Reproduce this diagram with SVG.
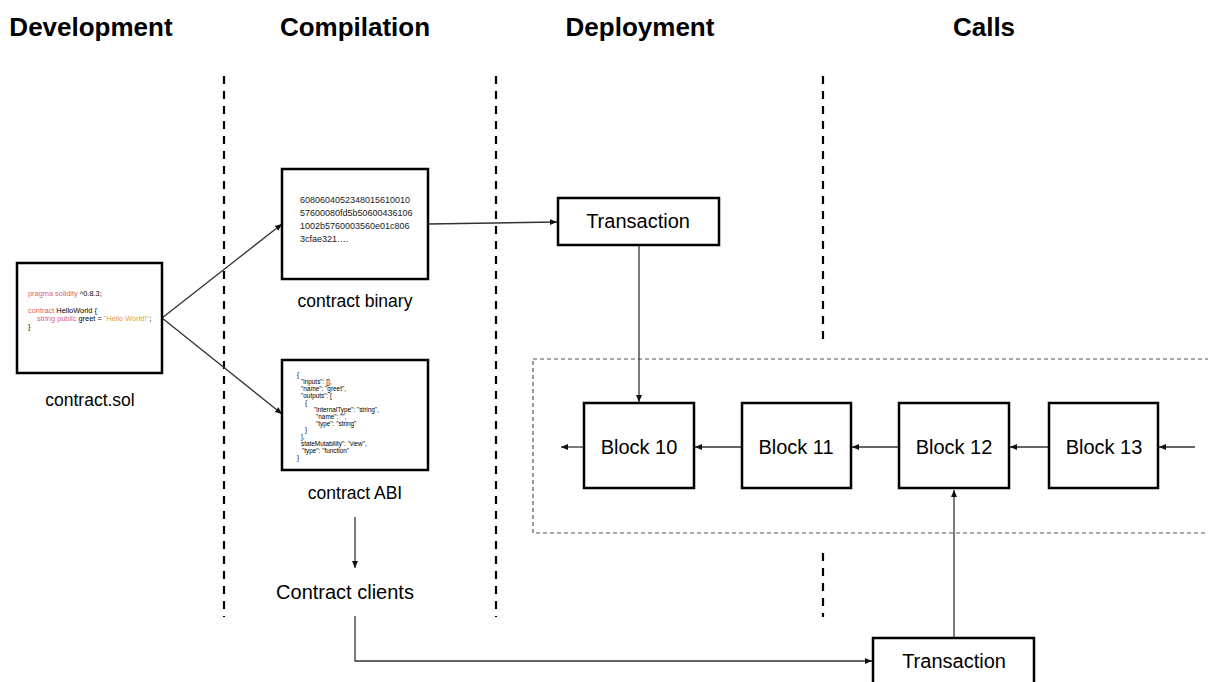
<svg xmlns="http://www.w3.org/2000/svg" width="1208" height="682" viewBox="0 0 1208 682">
<defs>
<style>
.hdr{font-family:"Liberation Sans",Arial,sans-serif;font-weight:bold;font-size:26px;fill:#000;text-anchor:middle}
.lbl{font-family:"Liberation Sans",Arial,sans-serif;font-size:17.5px;fill:#000;text-anchor:middle}
.big{font-family:"Liberation Sans",Arial,sans-serif;font-size:20px;fill:#000;text-anchor:middle}
.box{fill:#fff;stroke:#000;stroke-width:2.5}
.sep{stroke:#000;stroke-width:2.2;stroke-dasharray:8,7;fill:none}
.conn{stroke:#333;stroke-width:1.3;fill:none}
.code{font-family:"Liberation Sans",Arial,sans-serif;font-size:7.4px;fill:#000}
.bin{font-family:"Liberation Sans",Arial,sans-serif;font-size:9px;fill:#222}
.abi{font-family:"Liberation Sans",Arial,sans-serif;font-size:6.4px;fill:#000}
.kw{fill:#e0626a}
.str{fill:#e89a3c}
</style>
<marker id="arr" markerWidth="8" markerHeight="8" refX="7" refY="4" orient="auto" markerUnits="userSpaceOnUse">
<path d="M0,1 L7,4 L0,7 Z" fill="#111"/>
</marker>
</defs>
<rect width="1208" height="682" fill="#fff"/>

<g id="headers">
<text class="hdr" x="91" y="36">Development</text>
<text class="hdr" x="355" y="36">Compilation</text>
<text class="hdr" x="640" y="36">Deployment</text>
<text class="hdr" x="984" y="36">Calls</text>
</g>

<g id="separators">
<line class="sep" x1="224" y1="76" x2="224" y2="617"/>
<line class="sep" x1="496" y1="76" x2="496" y2="617"/>
<line class="sep" x1="823" y1="76" x2="823" y2="341"/>
<line class="sep" x1="823" y1="553" x2="823" y2="617"/>
</g>

<g id="chain-region">
<rect x="533" y="359" width="690" height="174" fill="none" stroke="#555" stroke-width="1.2" stroke-dasharray="4,3"/>
</g>

<g id="connectors">
<line class="conn" x1="162" y1="318" x2="282" y2="224" marker-end="url(#arr)"/>
<line class="conn" x1="162" y1="318" x2="282" y2="414" marker-end="url(#arr)"/>
<line class="conn" x1="428" y1="224" x2="557" y2="222" marker-end="url(#arr)"/>
<line class="conn" x1="639" y1="245" x2="639" y2="402" marker-end="url(#arr)"/>
<line class="conn" x1="355" y1="517" x2="355" y2="568" marker-end="url(#arr)"/>
<polyline class="conn" points="355,616 355,661 872,661" marker-end="url(#arr)"/>
<line class="conn" x1="954" y1="638" x2="954" y2="490" marker-end="url(#arr)"/>
<line class="conn" x1="584" y1="447" x2="561" y2="447" marker-end="url(#arr)"/>
<line class="conn" x1="742" y1="447" x2="695" y2="447" marker-end="url(#arr)"/>
<line class="conn" x1="899" y1="447" x2="852" y2="447" marker-end="url(#arr)"/>
<line class="conn" x1="1049" y1="447" x2="1010" y2="447" marker-end="url(#arr)"/>
<line class="conn" x1="1195" y1="447" x2="1159" y2="447" marker-end="url(#arr)"/>
</g>

<g id="contract-sol">
<rect class="box" x="17" y="263" width="145" height="110"/>
<text class="code" x="28" y="296"><tspan class="kw">pragma solidity</tspan> ^0.8.3;</text>
<text class="code" x="28" y="313"><tspan class="kw">contract</tspan> HelloWorld {</text>
<text class="code" x="37" y="321"><tspan class="kw">string public</tspan> greet = <tspan class="str">"Hello World!"</tspan>;</text>
<text class="code" x="28" y="329">}</text>
<text class="lbl" x="90" y="406">contract.sol</text>
</g>

<g id="contract-binary">
<rect class="box" x="282" y="169" width="146" height="110"/>
<text class="bin" x="300" y="203">6080604052348015610010</text>
<text class="bin" x="300" y="216">57600080fd5b50600436106</text>
<text class="bin" x="300" y="229">1002b5760003560e01c806</text>
<text class="bin" x="300" y="242">3cfae321….</text>
<text class="lbl" x="355" y="307">contract binary</text>
</g>

<g id="contract-abi">
<rect class="box" x="282" y="360" width="146" height="110"/>
<text class="abi" x="297" y="377">{</text>
<text class="abi" x="301" y="384">"inputs": [],</text>
<text class="abi" x="301" y="391">"name": "greet",</text>
<text class="abi" x="301" y="398">"outputs": [</text>
<text class="abi" x="305" y="405">{</text>
<text class="abi" x="314" y="412">"internalType": "string",</text>
<text class="abi" x="316" y="419">"name": "",</text>
<text class="abi" x="316" y="426">"type": "string"</text>
<text class="abi" x="305" y="432">}</text>
<text class="abi" x="301" y="439">],</text>
<text class="abi" x="301" y="446">stateMutability": "view",</text>
<text class="abi" x="302" y="453">"type": "function"</text>
<text class="abi" x="297" y="460">}</text>
<text class="lbl" x="355" y="499">contract ABI</text>
</g>

<g id="contract-clients">
<text class="big" x="345" y="599">Contract clients</text>
</g>

<g id="tx-deploy">
<rect class="box" x="558" y="198" width="161" height="47"/>
<text class="big" x="638" y="228">Transaction</text>
</g>

<g id="block-10">
<rect class="box" x="584" y="403" width="110" height="85"/>
<text class="big" x="639" y="454">Block 10</text>
</g>
<g id="block-11">
<rect class="box" x="742" y="403" width="109" height="85"/>
<text class="big" x="796" y="454">Block 11</text>
</g>
<g id="block-12">
<rect class="box" x="899" y="403" width="110" height="85"/>
<text class="big" x="954" y="454">Block 12</text>
</g>
<g id="block-13">
<rect class="box" x="1049" y="403" width="109" height="85"/>
<text class="big" x="1104" y="454">Block 13</text>
</g>

<g id="tx-call">
<rect class="box" x="873" y="638" width="161" height="60"/>
<text class="big" x="954" y="668">Transaction</text>
</g>
</svg>
